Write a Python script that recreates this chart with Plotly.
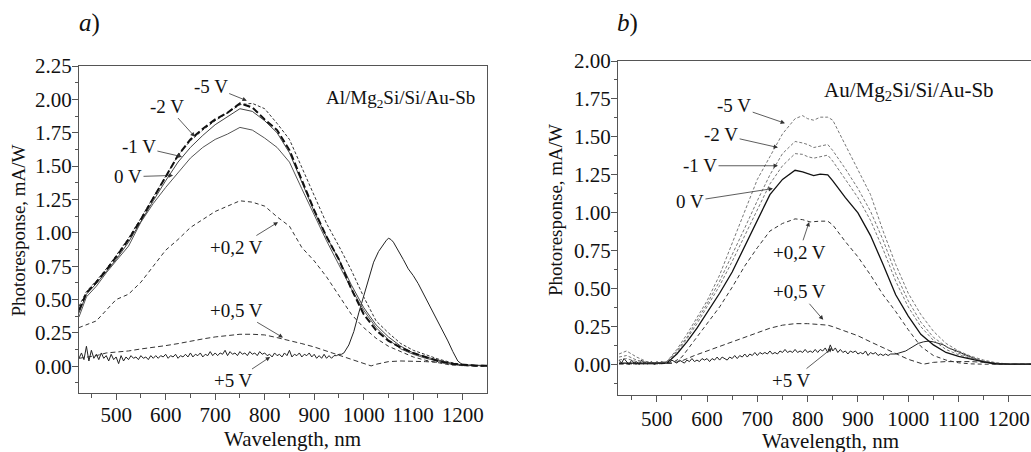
import plotly.graph_objects as go

# ---------------- Panel a: Al/Mg2Si/Si/Au-Sb ----------------
wl_a = [425, 440, 460, 480, 500, 525, 550, 575, 600, 625, 650, 675, 700, 725, 750, 775, 800, 825,
        850, 875, 900, 925, 950, 975, 1000, 1025, 1050, 1075, 1100, 1125, 1150, 1175, 1200, 1225, 1250]
a_0V = [0.37, 0.52, 0.60, 0.70, 0.79, 0.90, 1.08, 1.22, 1.34, 1.45, 1.56, 1.64, 1.70, 1.74, 1.79, 1.77, 1.71, 1.64,
        1.53, 1.33, 1.13, 0.94, 0.76, 0.58, 0.42, 0.29, 0.20, 0.13, 0.09, 0.06, 0.04, 0.02, 0.01, 0.005, 0.005]
a_m1V = [0.40, 0.54, 0.62, 0.71, 0.80, 0.93, 1.09, 1.24, 1.39, 1.53, 1.64, 1.73, 1.81, 1.87, 1.93, 1.91, 1.84, 1.75,
         1.60, 1.38, 1.16, 0.97, 0.80, 0.61, 0.44, 0.31, 0.22, 0.15, 0.10, 0.07, 0.045, 0.025, 0.01, 0.005, 0.005]
a_m2V = [0.42, 0.55, 0.63, 0.72, 0.82, 0.95, 1.10, 1.26, 1.42, 1.58, 1.70, 1.78, 1.85, 1.90, 1.97, 1.94, 1.85, 1.77,
         1.62, 1.39, 1.17, 0.97, 0.80, 0.58, 0.39, 0.27, 0.19, 0.14, 0.10, 0.07, 0.04, 0.02, 0.01, 0.005, 0.005]
a_m5V = [0.45, 0.56, 0.64, 0.73, 0.83, 0.96, 1.11, 1.27, 1.43, 1.58, 1.69, 1.77, 1.84, 1.90, 1.96, 1.97, 1.93, 1.82,
         1.70, 1.49, 1.28, 1.07, 0.90, 0.72, 0.52, 0.34, 0.25, 0.17, 0.12, 0.085, 0.055, 0.03, 0.01, 0.005, 0.005]
a_p02V = [0.29, 0.31, 0.34, 0.42, 0.50, 0.54, 0.63, 0.75, 0.87, 0.95, 1.04, 1.10, 1.16, 1.20, 1.24, 1.23, 1.20, 1.12,
          1.05, 0.89, 0.79, 0.67, 0.53, 0.39, 0.29, 0.21, 0.15, 0.11, 0.07, 0.045, 0.025, 0.01, 0.005, 0.003, 0.003]

wl_a_p05 = [425, 440, 460, 480, 500, 525, 550, 575, 600, 625, 650, 675, 700, 725, 750, 775, 800, 825, 850, 875,
            900, 925, 950, 975, 1000, 1015, 1025, 1050, 1075, 1100, 1125, 1150, 1175, 1200, 1225, 1250]
a_p05V = [0.06, 0.07, 0.08, 0.10, 0.105, 0.115, 0.13, 0.14, 0.155, 0.17, 0.19, 0.205, 0.22, 0.23, 0.24, 0.24, 0.235,
          0.215, 0.195, 0.17, 0.145, 0.115, 0.085, 0.055, 0.025, 0.003, 0.015, 0.035, 0.04, 0.04, 0.035, 0.03,
          0.015, 0.005, 0.003, 0.003]

wl_a_p5_noise = list(range(425, 960, 5))
a_p5V_noise = [0.06, 0.10, 0.05, 0.15, 0.04, 0.12, 0.06, 0.09, 0.05, 0.10, 0.06, 0.08, 0.04, 0.09, 0.05, 0.07,
               0.02, 0.08, 0.04, 0.07, 0.05, 0.08, 0.06, 0.07, 0.05, 0.08, 0.06, 0.07, 0.05, 0.08, 0.06, 0.08,
               0.06, 0.08, 0.07, 0.09, 0.06, 0.08, 0.07, 0.09, 0.06, 0.08, 0.07, 0.09, 0.07, 0.10, 0.07, 0.09,
               0.08, 0.10, 0.07, 0.09, 0.08, 0.11, 0.08, 0.10, 0.08, 0.10, 0.09, 0.12, 0.08, 0.11, 0.09, 0.10,
               0.08, 0.11, 0.09, 0.10, 0.08, 0.11, 0.09, 0.10, 0.08, 0.11, 0.09, 0.10, 0.08, 0.09, 0.07, 0.10,
               0.08, 0.09, 0.07, 0.10, 0.08, 0.12, 0.07, 0.09, 0.08, 0.10, 0.07, 0.09, 0.08, 0.10, 0.07, 0.09,
               0.06, 0.08, 0.06, 0.09, 0.06, 0.08, 0.06, 0.08, 0.08, 0.09, 0.09]
wl_a_p5_peak = [960, 970, 980, 990, 1000, 1010, 1020, 1030, 1040, 1045, 1050, 1055, 1060, 1070, 1080, 1090, 1100,
                1110, 1120, 1130, 1140, 1150, 1160, 1170, 1180, 1190, 1200, 1210, 1220, 1230, 1240, 1250]
a_p5V_peak = [0.10, 0.16, 0.26, 0.40, 0.53, 0.66, 0.78, 0.86, 0.92, 0.94, 0.96, 0.95, 0.93, 0.87, 0.80, 0.73, 0.68,
              0.62, 0.55, 0.47, 0.41, 0.34, 0.27, 0.19, 0.11, 0.04, 0.01, 0.005, 0.01, 0.005, 0.008, 0.005]

# ---------------- Panel b: Au/Mg2Si/Si/Au-Sb ----------------
wl_b = [425, 440, 460, 480, 500, 520, 540, 560, 580, 600, 625, 650, 675, 700, 725, 750, 775, 790, 800, 812, 825,
        840, 850, 875, 900, 925, 950, 975, 1000, 1025, 1050, 1075, 1100, 1125, 1150, 1175, 1200, 1250]
b_0V = [0.01, 0.01, 0.01, 0.01, 0.01, 0.01, 0.07, 0.15, 0.24, 0.34, 0.47, 0.61, 0.78, 0.95, 1.12, 1.22, 1.28, 1.27,
        1.26, 1.245, 1.255, 1.25, 1.21, 1.10, 1.00, 0.85, 0.66, 0.46, 0.32, 0.20, 0.13, 0.08, 0.055, 0.035, 0.018,
        0.006, 0.003, 0.003]
b_m1V = [0.03, 0.04, 0.02, 0.01, 0.01, 0.015, 0.08, 0.17, 0.27, 0.38, 0.52, 0.68, 0.85, 1.02, 1.19, 1.31, 1.39,
         1.385, 1.37, 1.36, 1.37, 1.38, 1.34, 1.22, 1.10, 0.95, 0.76, 0.55, 0.38, 0.25, 0.16, 0.10, 0.065, 0.04,
         0.02, 0.008, 0.003, 0.003]
b_m2V = [0.05, 0.06, 0.03, 0.015, 0.01, 0.02, 0.09, 0.18, 0.29, 0.40, 0.55, 0.72, 0.90, 1.08, 1.25, 1.39, 1.47,
         1.46, 1.45, 1.43, 1.44, 1.45, 1.41, 1.29, 1.16, 1.01, 0.82, 0.60, 0.42, 0.28, 0.18, 0.12, 0.075, 0.045,
         0.025, 0.01, 0.003, 0.003]
b_m5V = [0.07, 0.09, 0.05, 0.02, 0.01, 0.02, 0.10, 0.20, 0.31, 0.42, 0.59, 0.80, 1.01, 1.22, 1.37, 1.52, 1.62,
         1.64, 1.62, 1.61, 1.63, 1.63, 1.61, 1.45, 1.28, 1.12, 0.88, 0.66, 0.47, 0.33, 0.22, 0.14, 0.09, 0.055,
         0.03, 0.012, 0.004, 0.003]

wl_b_p02 = [425, 450, 500, 530, 550, 575, 600, 625, 650, 675, 700, 725, 750, 775, 790, 805, 825, 840, 850, 875,
            900, 925, 950, 975, 1000, 1025, 1050, 1075, 1100, 1125, 1150, 1250]
b_p02V = [0.005, 0.005, 0.005, 0.01, 0.05, 0.16, 0.27, 0.38, 0.51, 0.65, 0.77, 0.88, 0.93, 0.96, 0.955, 0.94,
          0.945, 0.945, 0.92, 0.81, 0.71, 0.59, 0.46, 0.35, 0.23, 0.12, 0.06, 0.03, 0.012, 0.005, 0.003, 0.003]

wl_b_p05 = [425, 500, 530, 550, 575, 600, 625, 650, 675, 700, 725, 750, 775, 800, 825, 840, 850, 875, 900, 925,
            950, 975, 1000, 1030, 1050, 1075, 1100, 1125, 1150, 1175, 1200, 1250]
b_p05V = [0.005, 0.005, 0.01, 0.025, 0.06, 0.09, 0.12, 0.15, 0.18, 0.21, 0.24, 0.26, 0.27, 0.27, 0.265, 0.26, 0.25,
          0.22, 0.19, 0.15, 0.11, 0.07, 0.035, 0.003, 0.015, 0.02, 0.02, 0.02, 0.015, 0.008, 0.003, 0.003]

wl_b_p5_noise = list(range(425, 1000, 5))
b_p5V_noise = [0.03, 0.01, 0.04, 0.02, 0.00, 0.03, 0.01, 0.02, 0.00, 0.03, 0.01, 0.02, 0.01, 0.02, 0.00, 0.02,
               0.01, 0.02, 0.01, 0.02, 0.01, 0.03, 0.02, 0.01, 0.03, 0.02, 0.01, 0.03, 0.02, 0.04, 0.02, 0.03,
               0.02, 0.04, 0.03, 0.04, 0.02, 0.04, 0.03, 0.05, 0.03, 0.05, 0.04, 0.03, 0.05, 0.04, 0.06, 0.04,
               0.06, 0.05, 0.07, 0.05, 0.07, 0.06, 0.08, 0.06, 0.08, 0.07, 0.08, 0.07, 0.09, 0.07, 0.08, 0.07,
               0.09, 0.08, 0.10, 0.08, 0.09, 0.08, 0.10, 0.08, 0.09, 0.08, 0.10, 0.08, 0.09, 0.08, 0.10, 0.08,
               0.10, 0.09, 0.11, 0.08, 0.13, 0.09, 0.11, 0.08, 0.10, 0.08, 0.09, 0.07, 0.09, 0.08, 0.09, 0.07,
               0.08, 0.07, 0.09, 0.06, 0.08, 0.07, 0.08, 0.06, 0.07, 0.06, 0.07, 0.06, 0.07, 0.07, 0.07, 0.075,
               0.08, 0.08, 0.09]
wl_b_p5_tail = [1000, 1010, 1020, 1030, 1040, 1050, 1060, 1070, 1080, 1090, 1100, 1110, 1120, 1130, 1140, 1150,
                1160, 1170, 1200, 1250]
b_p5V_tail = [0.10, 0.12, 0.14, 0.15, 0.155, 0.15, 0.14, 0.13, 0.11, 0.10, 0.085, 0.07, 0.055, 0.04, 0.03, 0.02,
              0.01, 0.005, 0.003, 0.003]

# annotation labels: (text, text x, text y, arrow x, arrow y)
labels_a = [("-5 V", 691, 2.10, 764, 1.99), ("-2 V", 603, 1.95, 659, 1.72), ("-1 V", 546, 1.645, 633, 1.57),
            ("0 V", 524, 1.42, 615, 1.43), ("+0,2 V", 744, 0.89, 827, 1.08), ("+0,5 V", 744, 0.42, 837, 0.215),
            ("+5 V", 738, -0.11, 811, 0.07)]
labels_b = [("-5 V", 654, 1.705, 755, 1.59), ("-2 V", 628, 1.515, 741, 1.43), ("-1 V", 586, 1.31, 741, 1.31),
            ("0 V", 566, 1.075, 731, 1.16), ("+0,2 V", 783, 0.74, 803, 0.94), ("+0,5 V", 783, 0.48, 831, 0.295),
            ("+5 V", 768, -0.105, 849, 0.11)]

SERIF = "Liberation Serif"
fig = go.Figure()


def add(x, y, color, width, dash, xa, ya):
    fig.add_trace(go.Scatter(x=x, y=y, mode="lines", xaxis=xa, yaxis=ya, showlegend=False, hoverinfo="skip",
                             line=dict(color=color, width=width, dash=dash)))


# panel a
add(wl_a_p5_noise + wl_a_p5_peak, a_p5V_noise + a_p5V_peak, "#222", 1, "solid", "x", "y")
add(wl_a_p05, a_p05V, "#333", 1, "5px,3px", "x", "y")
add(wl_a, a_p02V, "#333", 1, "4px,3px", "x", "y")
add(wl_a, a_0V, "#555", 1, "solid", "x", "y")
add(wl_a, a_m1V, "#444", 1, "solid", "x", "y")
add(wl_a, a_m5V, "#333", 1, "3px,2px", "x", "y")
add(wl_a, a_m2V, "#111", 2, "7px,3px", "x", "y")

# panel b
add(wl_b_p5_noise + wl_b_p5_tail, b_p5V_noise + b_p5V_tail, "#222", 1, "solid", "x2", "y2")
add(wl_b_p05, b_p05V, "#333", 1, "5px,3px", "x2", "y2")
add(wl_b_p02, b_p02V, "#333", 1, "4px,3px", "x2", "y2")
add(wl_b, b_m1V, "#777", 1, "3px,2px", "x2", "y2")
add(wl_b, b_m2V, "#777", 1, "3px,2px", "x2", "y2")
add(wl_b, b_m5V, "#777", 1, "3px,2px", "x2", "y2")
add(wl_b, b_0V, "#111", 1.3, "solid", "x2", "y2")

W, H = 1031, 452
axis_common = dict(showgrid=False, zeroline=False, showline=True, linecolor="#555", linewidth=1,
                   ticks="outside", ticklen=6, tickwidth=1, tickcolor="#555", automargin=False,
                   tickfont=dict(family=SERIF, size=21, color="#111"))
minor_x = dict(dtick=50, ticklen=3.5, ticks="outside", tickcolor="#555", showgrid=False)
minor_y = dict(dtick=0.125, ticklen=3.5, ticks="outside", tickcolor="#555", showgrid=False)

fig.update_layout(
    template="none",
    width=W, height=H, margin=dict(l=0, r=0, t=0, b=0, pad=0),
    paper_bgcolor="white", plot_bgcolor="white",
    font=dict(family=SERIF, color="#111"),
    xaxis=dict(domain=[79 / W, 487 / W], range=[425, 1249], tick0=0, dtick=100, mirror=True,
               ticklabelstandoff=-3, minor=minor_x, anchor="y", **axis_common),
    yaxis=dict(domain=[1 - 393 / H, 1 - 66 / H], range=[-0.2, 2.25], tick0=0, dtick=0.25, tickformat=".2f",
               ticklabelstandoff=-4, mirror=True, minor=minor_y, anchor="x", **axis_common),
    xaxis2=dict(domain=[618 / W, 1.0], range=[423, 1244], tick0=0, dtick=100, mirror=True,
                ticklabelstandoff=-1, minor=minor_x, anchor="y2", **axis_common),
    yaxis2=dict(domain=[1 - 395 / H, 1 - 61 / H], range=[-0.2, 2.0], tick0=0, dtick=0.25, tickformat=".2f",
                ticklabelstandoff=-4, mirror=False, minor=minor_y, anchor="x2", **axis_common),
)

ann = []
for labels, xr, yr in ((labels_a, "x", "y"), (labels_b, "x2", "y2")):
    for text, tx, ty, hx, hy in labels:
        ann.append(dict(text=text, x=hx, y=hy, ax=tx, ay=ty, xref=xr, yref=yr, axref=xr, ayref=yr,
                        showarrow=True, arrowhead=2, arrowsize=1.1, arrowwidth=0.8, arrowcolor="#333",
                        font=dict(family=SERIF, size=19, color="#111")))

ann.append(dict(text="Al/Mg<sub>2</sub>Si/Si/Au-Sb", x=1075, y=2.0, xref="x", yref="y", showarrow=False,
                xanchor="center", yanchor="middle", font=dict(family=SERIF, size=19, color="#111")))
ann.append(dict(text="Au/Mg<sub>2</sub>Si/Si/Au-Sb", x=1002, y=1.80, xref="x2", yref="y2", showarrow=False,
                xanchor="center", yanchor="middle", font=dict(family=SERIF, size=21, color="#111")))

# panel letters and axis titles
for txt, px, py in (("<i>a</i>)", 89, 23), ("<i>b</i>)", 627, 23)):
    ann.append(dict(text=txt, x=px / W, y=1 - py / H, xref="paper", yref="paper", showarrow=False,
                    xanchor="center", yanchor="middle", font=dict(family=SERIF, size=25, color="#111")))
for px, py in ((292.5, 438.5), (830, 441)):
    ann.append(dict(text="Wavelength, nm", x=px / W, y=1 - py / H, xref="paper", yref="paper", showarrow=False,
                    xanchor="center", yanchor="middle", font=dict(family=SERIF, size=21, color="#111")))
for px, py in ((18.5, 231), (556, 210)):
    ann.append(dict(text="Photoresponse, mA/W", x=px / W, y=1 - py / H, xref="paper", yref="paper",
                    xanchor="center", yanchor="middle",
                    showarrow=False, textangle=-90, font=dict(family=SERIF, size=19, color="#111")))

fig.update_layout(annotations=ann)
fig.write_html("out.html", config={"displayModeBar": False},
               post_script="document.body.style.margin='0px';document.body.style.overflow='hidden';")
